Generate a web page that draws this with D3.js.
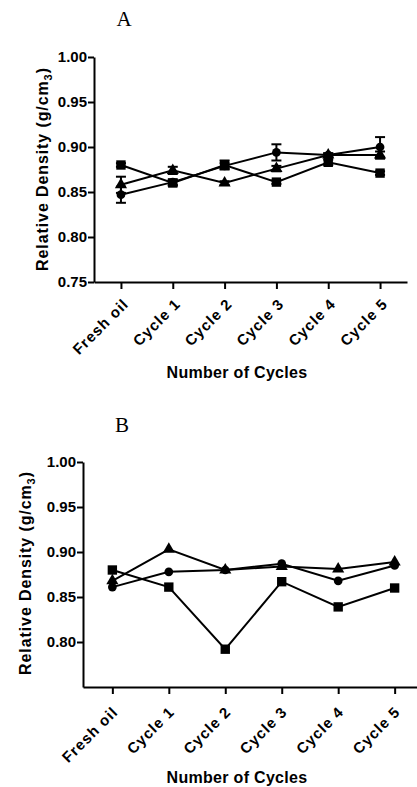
<!DOCTYPE html>
<html>
<head>
<meta charset="utf-8">
<script src="https://cdn.jsdelivr.net/npm/d3@7"></script>
<style>
  body { margin: 0; background: #fff; }
  svg { display: block; }
  text { font-family: "Liberation Sans", Arial, sans-serif; font-weight: bold; fill: #000; }
  .panel-title { font-family: "Liberation Serif", "Times New Roman", serif; font-weight: normal; font-size: 21px; }
</style>
</head>
<body>
<div id="chart"></div>
<script>
// categories and values
var cycles = ['Fresh oil', 'Cycle 1', 'Cycle 2', 'Cycle 3', 'Cycle 4', 'Cycle 5'];

var squareA = [0.880, 0.860, 0.880, 0.861, 0.883, 0.871];
var triangleA = [0.858, 0.874, 0.860, 0.876, 0.891, 0.891];
var circleA = [0.847, 0.861, 0.879, 0.894, 0.891, 0.900];
var squareErrA = [0.002, 0.003, 0.005, 0.002, 0.003, 0.002];
var triangleErrA = [0.009, 0.004, 0.002, 0.003, 0.002, 0.004];
var circleErrA = [0.009, 0.003, 0.003, 0.009, 0.002, 0.011];

var squareB = [0.880, 0.861, 0.792, 0.867, 0.839, 0.860];
var triangleB = [0.868, 0.903, 0.880, 0.884, 0.881, 0.889];
var circleB = [0.861, 0.878, 0.880, 0.887, 0.868, 0.885];

var ticksA = [0.75, 0.80, 0.85, 0.90, 0.95, 1.00];
var ticksB = [0.80, 0.85, 0.90, 0.95, 1.00];

var width = 417, height = 787;

var svg = d3.select('#chart').append('svg')
	.attr('width', width)
	.attr('height', height);

function drawPanel(opts) {
	var g = svg.append('g');

	var x = d3.scalePoint()
		.domain(cycles)
		.range([opts.left, opts.right])
		.padding(0.52);

	var y = d3.scaleLinear()
		.domain([0.75, 1.00])
		.range([opts.bottom, opts.top]);

	// panel letter
	g.append('text')
		.attr('class', 'panel-title')
		.attr('x', opts.titleX)
		.attr('y', opts.titleY)
		.attr('text-anchor', 'middle')
		.text(opts.title);

	// y axis
	var yAxis = g.append('g')
		.attr('transform', 'translate(' + opts.left + ',0)')
		.call(d3.axisLeft(y)
			.tickValues(opts.ticks)
			.tickFormat(d3.format('.2f'))
			.tickSize(6)
			.tickPadding(1)
			.tickSizeOuter(0));

	yAxis.select('.domain').attr('stroke-width', 2);
	yAxis.selectAll('.tick line').attr('stroke-width', 2);
	yAxis.selectAll('text')
		.style('font-size', '15px')
		.attr('fill', '#000');

	// x axis, labels turned 45 degrees
	var xAxis = g.append('g')
		.attr('transform', 'translate(0,' + opts.bottom + ')')
		.call(d3.axisBottom(x).tickSize(7).tickSizeOuter(0));

	xAxis.select('.domain').attr('stroke-width', 2);
	xAxis.selectAll('.tick line').attr('stroke-width', 2);
	xAxis.selectAll('text')
		.style('font-size', '15px')
		.style('letter-spacing', '1px')
		.attr('fill', '#000')
		.attr('x', 0)
		.attr('y', 0)
		.attr('dy', 0)
		.attr('text-anchor', 'end')
		.attr('transform', 'translate(' + opts.labelDx + ',' + opts.labelDy + ') rotate(-45)');

	// axis titles
	var yTitle = g.append('text')
		.attr('transform', 'translate(' + opts.yTitleX + ',' + opts.yTitleY + ') rotate(-90)')
		.attr('text-anchor', 'middle')
		.style('font-size', '16px')
		.style('letter-spacing', '0.9px');
	yTitle.append('tspan').text('Relative Density (g/cm');
	yTitle.append('tspan').attr('dy', 4).style('font-size', '11px').text('3');
	yTitle.append('tspan').attr('dy', -4).text(')');

	g.append('text')
		.attr('x', opts.xTitleX)
		.attr('y', opts.xTitleY)
		.attr('text-anchor', 'middle')
		.style('font-size', '16px')
		.style('letter-spacing', '0.3px')
		.text('Number of Cycles');

	var line = d3.line()
		.x(function(d, i) { return x(cycles[i]); })
		.y(function(d) { return y(d); });

	var series = [
		{ values: opts.square, errs: opts.squareErr, shape: d3.symbolSquare, size: 88 },
		{ values: opts.triangle, errs: opts.triangleErr, shape: d3.symbolTriangle, size: 64 },
		{ values: opts.circle, errs: opts.circleErr, shape: d3.symbolCircle, size: 60 }
	];

	series.forEach(function(s) {
		g.append('path')
			.datum(s.values)
			.attr('fill', 'none')
			.attr('stroke', '#000')
			.attr('stroke-width', 2)
			.attr('d', line);

		if (s.errs) {
			s.values.forEach(function(v, i) {
				var e = s.errs[i],
					cx = x(cycles[i]);
				if (!e) return;
				var bar = g.append('g')
					.attr('stroke', '#000')
					.attr('stroke-width', 2);
				bar.append('line')
					.attr('x1', cx).attr('x2', cx)
					.attr('y1', y(v - e)).attr('y2', y(v + e));
				[v - e, v + e].forEach(function(c) {
					bar.append('line')
						.attr('x1', cx - 5).attr('x2', cx + 5)
						.attr('y1', y(c)).attr('y2', y(c));
				});
			});
		}

		g.selectAll(null)
			.data(s.values)
			.enter()
			.append('path')
			.attr('transform', function(d, i) {
				return 'translate(' + x(cycles[i]) + ',' + y(d) + ')';
			})
			.attr('d', d3.symbol().type(s.shape).size(s.size))
			.attr('fill', '#000');
	});
}

drawPanel({
	title: 'A', titleX: 124, titleY: 26,
	left: 94, right: 407, top: 57, bottom: 282,
	ticks: ticksA,
	labelDx: 8, labelDy: 23,
	yTitleX: 48, yTitleY: 169,
	xTitleX: 237, xTitleY: 378,
	square: squareA, triangle: triangleA, circle: circleA,
	squareErr: squareErrA, triangleErr: triangleErrA, circleErr: circleErrA
});

drawPanel({
	title: 'B', titleX: 122, titleY: 432,
	left: 83, right: 424, top: 462, bottom: 687,
	ticks: ticksB,
	labelDx: 6, labelDy: 26,
	yTitleX: 31, yTitleY: 573,
	xTitleX: 237, xTitleY: 783,
	square: squareB, triangle: triangleB, circle: circleB
});
</script>
</body>
</html>
